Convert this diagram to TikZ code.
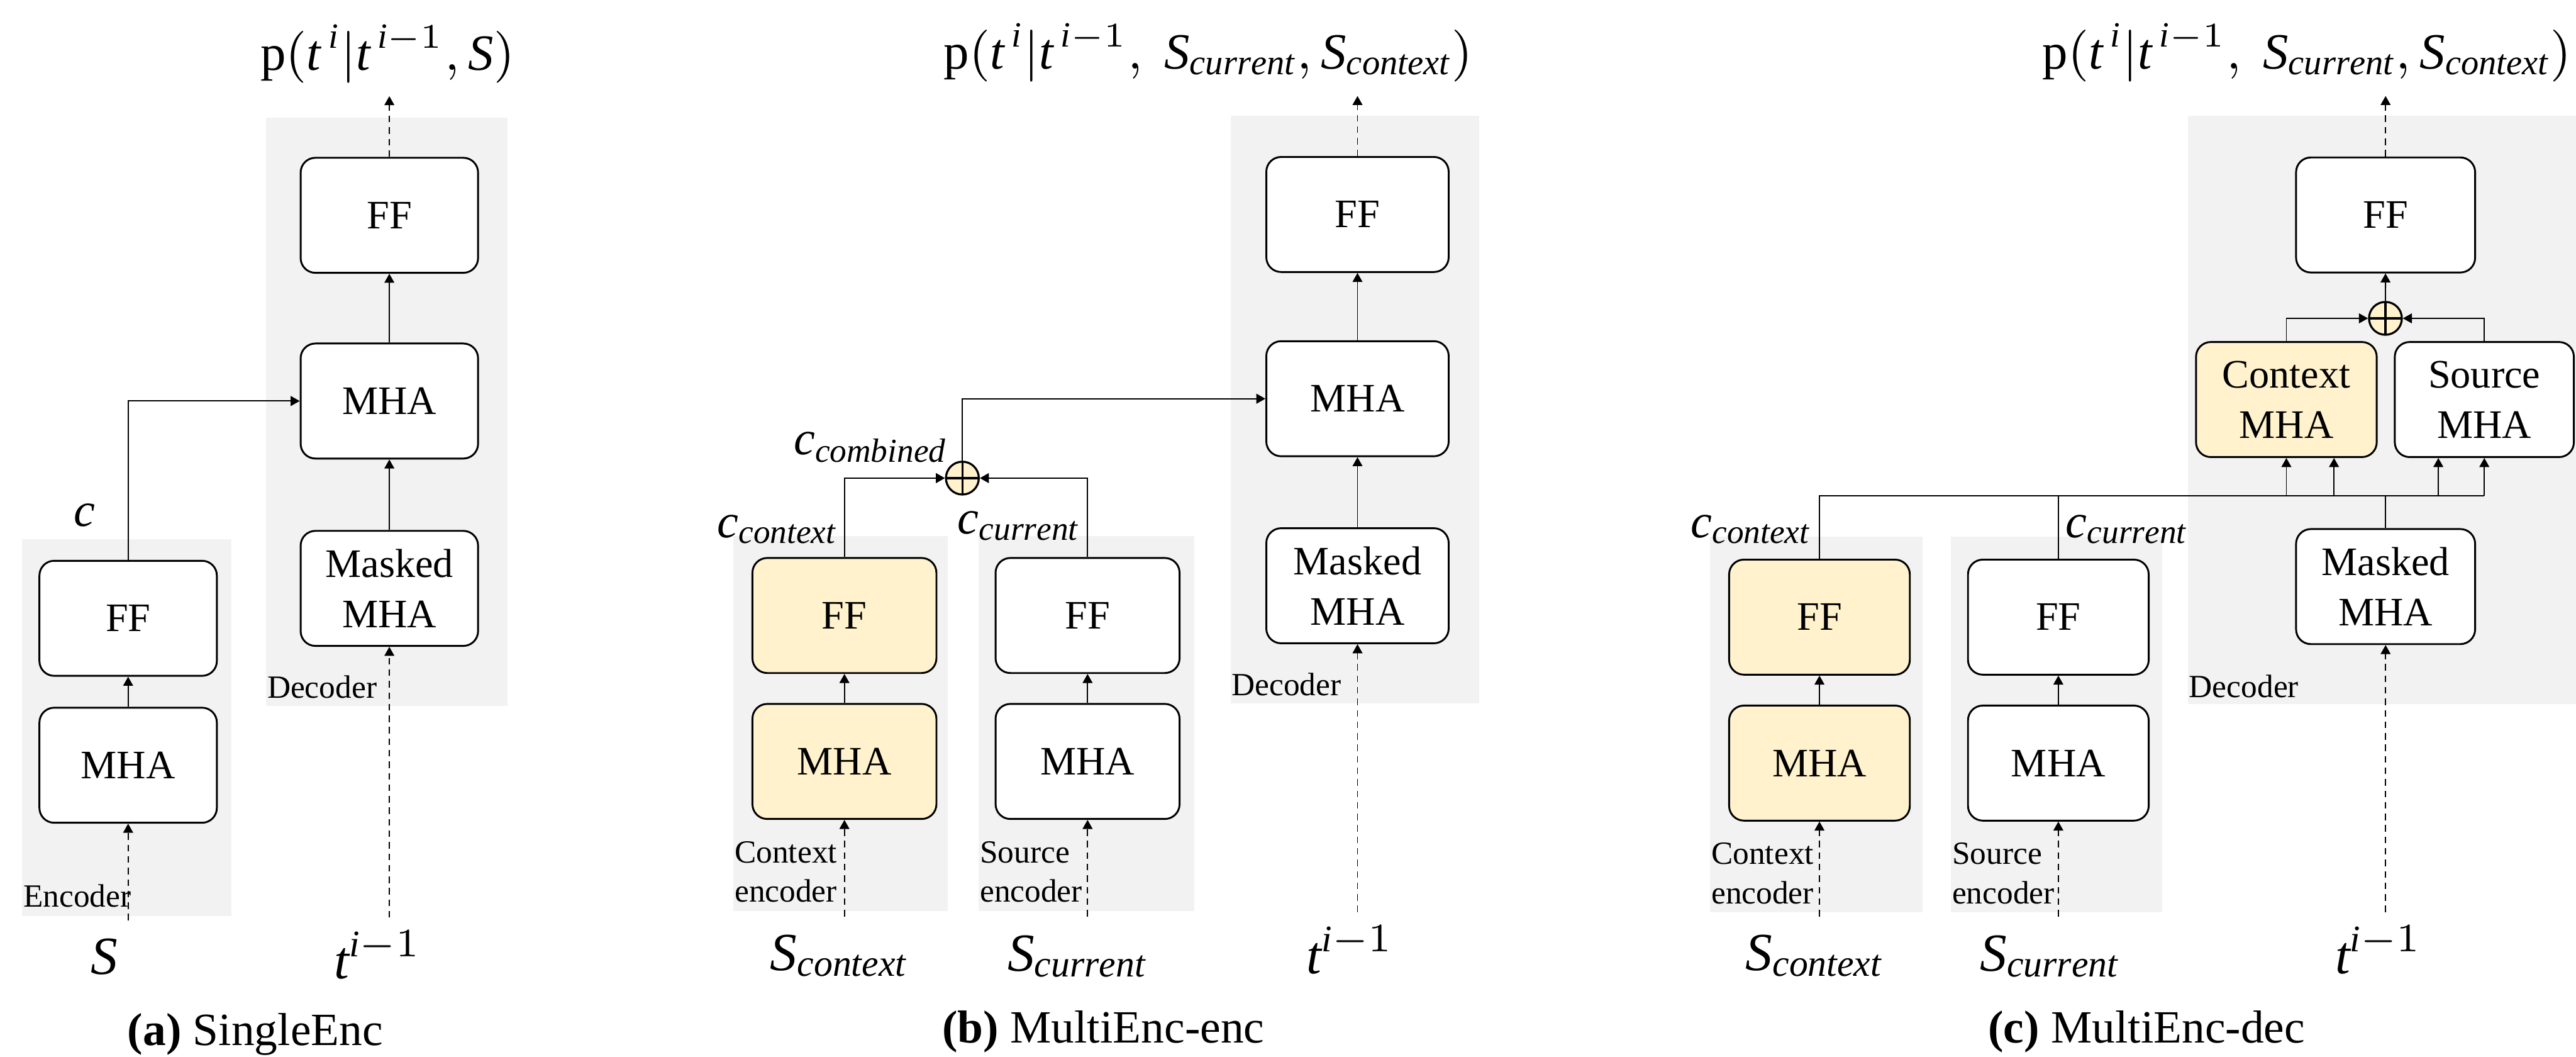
\documentclass[tikz,border=0pt]{standalone}
\usepackage{fontspec}
\setmainfont{Liberation Serif}
\usetikzlibrary{arrows.meta}
\definecolor{panelgray}{HTML}{F2F2F2}
\definecolor{ctxyellow}{HTML}{FFF2CC}

\begin{document}
\begin{tikzpicture}[x=0.1mm,y=-0.1mm,
	blk/.style={draw,line width=0.32pt,rounded corners=0.9mm,fill=white,minimum height=7mm,inner sep=0pt,align=center,font=\fontsize{7}{8.7}\selectfont},
	ctx/.style={fill=ctxyellow},
	conn/.style={line width=0.2pt},
	arr/.style={conn,-{Triangle[length=0.55mm,width=0.6mm]}},
	dash arr/.style={arr,dash pattern=on 0.4mm off 0.3mm},
	oplus/.style={draw,circle,line width=0.35pt,fill=ctxyellow,minimum size=2mm,inner sep=0pt,
		path picture={\draw[line width=0.35pt] (path picture bounding box.north) -- (path picture bounding box.south)
			(path picture bounding box.west) -- (path picture bounding box.east);}},
	lbl/.style={inner sep=0pt,font=\fontsize{5.6}{6.8}\selectfont,align=left},
	mth/.style={inner sep=0pt,font=\fontsize{9.3}{11}\selectfont},
	sml/.style={inner sep=0pt,font=\fontsize{8.3}{10}\selectfont},
	outtxt/.style={inner sep=0pt,font=\fontsize{8.8}{10}\selectfont},
	captxt/.style={inner sep=0pt,font=\fontsize{8}{9}\selectfont}]
	\useasboundingbox (0,0) rectangle (1568,643);

	% (a)
	\fill[panelgray] (13.5,328) rectangle (140.8,557.5);
	\fill[panelgray] (162,71.7) rectangle (308.8,429.6);
	\node[blk,minimum width=10.8mm] (aeff) at (78,376.2) {FF};
	\node[blk,minimum width=10.8mm] (aemha) at (78,465.6) {MHA};
	\node[blk,minimum width=10.8mm] (adff) at (237,131) {FF};
	\node[blk,minimum width=10.8mm] (admha) at (237,244) {MHA};
	\node[blk,minimum width=10.8mm] (admask) at (237,358) {Masked\\MHA};
	\node[lbl,anchor=west] (aenc) at (13.5,545.2) {Encoder};
	\node[lbl,anchor=west] (adec) at (162,418) {Decoder};
	\node[sml] (ac) at (51.6,313.6) {$\mathit{c}$};
	\node[mth] (as) at (63.5,582) {$\mathit{S}$};
	\node[mth] (at) at (230,581) {$\mathit{t}^{\mathit{i}-1}$};
	\node[outtxt] (aout) at (236,32.8) {$\mathrm{p}(\mathit{t}^{\,\mathit{i}}|\mathit{t}^{\,\mathit{i}-1},\mathit{S})$};
	\node[captxt] (acap) at (155.4,629.4) {\textbf{(a)} SingleEnc};
	\coordinate (asin) at (78,560);
	\coordinate (atin) at (237,558.3);
	\coordinate (atop) at (237,58.5);
	\draw[arr] (aeff.north) |- (admha.west);
	\draw[arr] (aemha) -- (aeff);
	\draw[arr] (admask) -- (admha);
	\draw[arr] (admha) -- (adff);
	\draw[dash arr] (asin) -- (aemha.south);
	\draw[dash arr] (atin) -- (admask.south);
	\draw[dash arr] (adff.north) -- (atop);

	% (b)
	\fill[panelgray] (446.5,326) rectangle (577,554.3);
	\fill[panelgray] (595.8,326) rectangle (726.8,554.3);
	\fill[panelgray] (749,70.5) rectangle (900.5,428);
	\node[blk,ctx,minimum width=11.2mm] (bcff) at (514,374.5) {FF};
	\node[blk,ctx,minimum width=11.2mm] (bcmha) at (514,463.3) {MHA};
	\node[blk,minimum width=11.2mm] (bsff) at (662,374.5) {FF};
	\node[blk,minimum width=11.2mm] (bsmha) at (662,463.3) {MHA};
	\node[blk,minimum width=11.1mm] (bdff) at (826.3,130.5) {FF};
	\node[blk,minimum width=11.1mm] (bdmha) at (826.3,242.6) {MHA};
	\node[blk,minimum width=11.1mm] (bdmask) at (826.3,356.4) {Masked\\MHA};
	\node[oplus] (bsum) at (585.8,290.9) {};
	\node[sml,anchor=east] (bcc) at (511,322) {$\mathit{c}_{\mathit{context}}$};
	\node[sml,anchor=east] (bcs) at (658.5,320) {$\mathit{c}_{\mathit{current}}$};
	\node[sml,anchor=east] (bcb) at (578,272) {$\mathit{c}_{\mathit{combined}}$};
	\node[lbl,anchor=west] (bctxl) at (446.5,530.4) {Context\\encoder};
	\node[lbl,anchor=west] (bsrcl) at (595.8,530.4) {Source\\encoder};
	\node[lbl,anchor=west] (bdec) at (749,416.6) {Decoder};
	\node[mth] (bsc) at (511,581.6) {$\mathit{S}_{\mathit{context}}$};
	\node[mth] (bss) at (656,582) {$\mathit{S}_{\mathit{current}}$};
	\node[mth] (bt) at (822,578) {$\mathit{t}^{\mathit{i}-1}$};
	\node[outtxt] (bout) at (735.5,32) {$\mathrm{p}(\mathit{t}^{\,\mathit{i}}|\mathit{t}^{\,\mathit{i}-1},\ \mathit{S}_{\mathit{current}},\mathit{S}_{\mathit{context}})$};
	\node[captxt] (bcap) at (671.6,627.6) {\textbf{(b)} MultiEnc-enc};
	\coordinate (bcin) at (514,557.6);
	\coordinate (bsin) at (662,557.6);
	\coordinate (btin) at (826.3,555);
	\coordinate (btop) at (826.3,58.4);
	\draw[arr] (bcmha) -- (bcff);
	\draw[arr] (bsmha) -- (bsff);
	\draw[arr] (bcff.north) |- (bsum.west);
	\draw[arr] (bsff.north) |- (bsum.east);
	\draw[arr] (bsum.north) |- (bdmha.west);
	\draw[arr] (bdmask) -- (bdmha);
	\draw[arr] (bdmha) -- (bdff);
	\draw[dash arr] (bcin) -- (bcmha.south);
	\draw[dash arr] (bsin) -- (bsmha.south);
	\draw[dash arr] (btin) -- (bdmask.south);
	\draw[dash arr] (bdff.north) -- (btop);

	% (c)
	\fill[panelgray] (1041,326.4) rectangle (1170.4,555);
	\fill[panelgray] (1187.6,326.4) rectangle (1316.1,555);
	\fill[panelgray] (1331.8,70.5) rectangle (1568,428.5);
	\node[blk,ctx,minimum width=11mm] (ccff) at (1107.5,375.5) {FF};
	\node[blk,ctx,minimum width=11mm] (ccmha) at (1107.5,464.3) {MHA};
	\node[blk,minimum width=11mm] (csff) at (1252.9,375.5) {FF};
	\node[blk,minimum width=11mm] (csmha) at (1252.9,464.3) {MHA};
	\node[blk,minimum width=10.9mm] (cdff) at (1452.1,130.8) {FF};
	\node[blk,ctx,minimum width=11mm] (cxmha) at (1391.7,243.1) {Context\\MHA};
	\node[blk,minimum width=10.9mm] (csrc) at (1512.2,243.1) {Source\\MHA};
	\node[blk,minimum width=10.9mm] (cdmask) at (1452.1,356.9) {Masked\\MHA};
	\node[oplus] (csum) at (1452,193.7) {};
	\node[sml,anchor=east] (ccc) at (1103.6,322) {$\mathit{c}_{\mathit{context}}$};
	\node[sml,anchor=west] (ccs) at (1256.8,322) {$\mathit{c}_{\mathit{current}}$};
	\node[lbl,anchor=west] (cctxl) at (1041,531.5) {Context\\encoder};
	\node[lbl,anchor=west] (csrcl) at (1187.6,531.5) {Source\\encoder};
	\node[lbl,anchor=west] (cdec) at (1331.8,417.6) {Decoder};
	\node[mth] (csc) at (1104.7,581.6) {$\mathit{S}_{\mathit{context}}$};
	\node[mth] (css) at (1248,582) {$\mathit{S}_{\mathit{current}}$};
	\node[mth] (ct) at (1448,578) {$\mathit{t}^{\mathit{i}-1}$};
	\node[outtxt,anchor=east] (cout) at (1566,32) {$\mathrm{p}(\mathit{t}^{\,\mathit{i}}|\mathit{t}^{\,\mathit{i}-1},\ \mathit{S}_{\mathit{current}},\mathit{S}_{\mathit{context}})$};
	\node[captxt] (ccap) at (1306.6,627.6) {\textbf{(c)} MultiEnc-dec};
	\coordinate (ccin) at (1107.5,557.6);
	\coordinate (csin) at (1252.9,557.6);
	\coordinate (ctin) at (1452.1,555);
	\coordinate (ctop) at (1452.1,58.4);
	\coordinate (cbus) at (1512.2,301.8);
	\coordinate[xshift=2.9mm] (cxin) at (cxmha.south);
	\coordinate[xshift=-2.8mm] (csrcin) at (csrc.south);
	\draw[arr] (ccmha) -- (ccff);
	\draw[arr] (csmha) -- (csff);
	\draw[conn] (ccff.north) |- (cbus);
	\draw[conn] (csff.north) -- (csff.north |- cbus);
	\draw[conn] (cdmask.north) -- (cdmask.north |- cbus);
	\draw[arr] (cxmha.south |- cbus) -- (cxmha.south);
	\draw[arr] (cxin |- cbus) -- (cxin);
	\draw[arr] (csrcin |- cbus) -- (csrcin);
	\draw[arr] (csrc.south |- cbus) -- (csrc.south);
	\draw[arr] (cxmha.north) |- (csum.west);
	\draw[arr] (csrc.north) |- (csum.east);
	\draw[arr] (csum) -- (cdff);
	\draw[dash arr] (ccin) -- (ccmha.south);
	\draw[dash arr] (csin) -- (csmha.south);
	\draw[dash arr] (ctin) -- (cdmask.south);
	\draw[dash arr] (cdff.north) -- (ctop);
\end{tikzpicture}
\end{document}
